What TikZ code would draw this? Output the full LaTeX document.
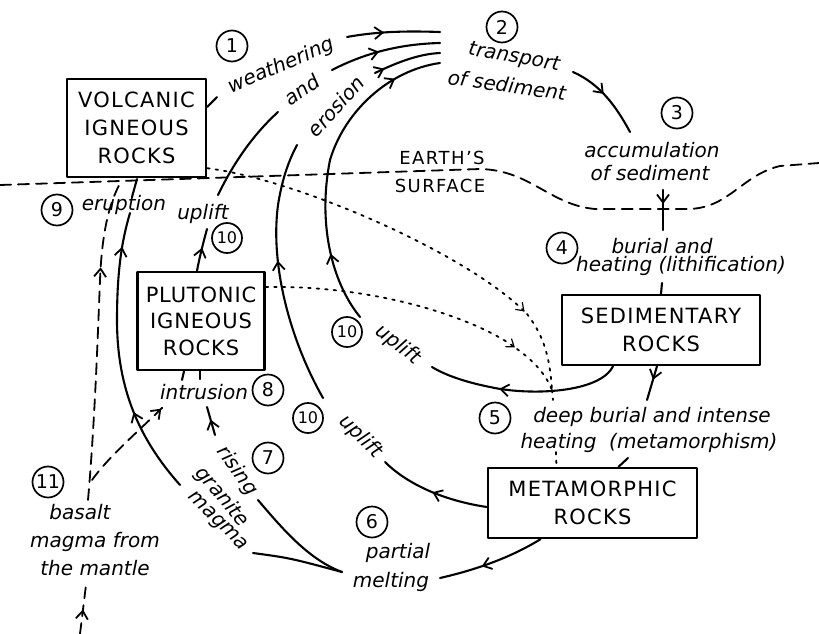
\documentclass[tikz,border=0pt]{standalone}
\usepackage{fontspec}
\setmainfont{DejaVu Sans}
\usetikzlibrary{arrows.meta,decorations.markings}
\begin{document}
\begin{tikzpicture}[x=1pt,y=-1pt,line cap=round,line join=round,
  box/.style={draw,line width=2.4pt,inner sep=0pt,align=center,font=\fontsize{21}{28}\selectfont\addfontfeatures{LetterSpace=6}},
  num/.style={draw,circle,line width=1.7pt,inner sep=0pt,minimum size=31pt,font=\fontsize{19}{19}\selectfont},
  numb/.style={num,minimum size=30pt,font=\fontsize{16}{16}\selectfont},
  lab/.style={inner sep=0pt,font=\fontsize{20}{26}\selectfont\itshape},
  caps/.style={inner sep=0pt,font=\fontsize{18}{20}\selectfont\addfontfeatures{LetterSpace=8}},
  curve/.style={line width=2.1pt},
  dashline/.style={line width=1.8pt,dash pattern=on 11pt off 7pt},
  dotline/.style={line width=1.8pt,dash pattern=on 2.5pt off 6pt},
  marr/.style={postaction={decorate,decoration={markings,mark=at position #1 with {\arrow[line width=1.8pt]{Straight Barb[length=8pt,width=12pt]}}}}},
  darr/.style={postaction={decorate,decoration={markings,mark=at position #1 with {\arrow[line width=1.2pt]{Straight Barb[length=7pt,width=10pt]}}}}},
]
\useasboundingbox (0,0) rectangle (819,634);

% boxes
\node[box,minimum width=139pt,minimum height=98pt] (volc) at (136.5,128) {VOLCANIC\\IGNEOUS\\ROCKS};
\node[box,minimum width=127pt,minimum height=98pt,font=\fontsize{21}{26.5}\selectfont\addfontfeatures{LetterSpace=4}] (pluto) at (201,321) {PLUTONIC\\IGNEOUS\\ROCKS};
\node[box,minimum width=198pt,minimum height=70pt] (sedi) at (661,330) {SEDIMENTARY\\ROCKS};
\node[box,minimum width=209pt,minimum height=70pt] (meta) at (592.5,503) {METAMORPHIC\\ROCKS};

% numbers
\node[num] (n1) at (232,46) {1};
\node[num] (n2) at (502,27) {2};
\node[num] (n3) at (677,113) {3};
\node[num] (n4) at (562,248) {4};
\node[num] (n5) at (495,418) {5};
\node[num] (n6) at (372,522) {6};
\node[num] (n7) at (268,458) {7};
\node[num] (n8) at (268,390) {8};
\node[num] (n9) at (57,210) {9};
\node[numb] (n10a) at (227,238) {10};
\node[numb] (n10b) at (347,332) {10};
\node[numb] (n10c) at (308,418) {10};
\node[num] (n11) at (48,482) {11};

% labels
\node[lab,rotate=23] (weath) at (281,66) {weathering};
\node[lab,rotate=35] (and) at (302,90) {and};
\node[lab,rotate=48] (eros) at (336,106) {erosion};
\node[lab,rotate=-10] (transp) at (514,58) {transport};
\node[lab,rotate=-8] (ofsed) at (507,85) {of sediment};
\node[lab] (accum) at (652,150) {accumulation};
\node[lab] (ofsed2) at (650,173) {of sediment};
\node[lab] (burial) at (662,246) {burial and};
\node[lab] (lithi) at (681,266) {heating (lithification)};
\node[lab] (deep) at (652,417) {deep burial and intense};
\node[lab] (metam) at (649,443) {heating \ (metamorphism)};
\node[lab] (partial) at (398,553) {partial};
\node[lab] (melting) at (391,582) {melting};
\node[lab,rotate=-45] (upl3) at (361,437) {uplift};
\node[lab,rotate=-37] (upl2) at (398,345) {uplift};
\node[lab] (upl1) at (203,214) {uplift};
\node[lab] (erupt) at (124,205) {eruption};
\node[lab] (intru) at (204,392) {intrusion};
\node[lab,rotate=-55] (rising) at (237,471) {rising};
\node[lab,rotate=-50] (granite) at (222,497) {granite};
\node[lab,rotate=-45] (magma) at (217,522) {magma};
\node[lab] (basalt) at (80,512) {basalt};
\node[lab] (magfrom) at (95,542) {magma from};
\node[lab] (mantle) at (95,568) {the mantle};
\node[caps] (earth) at (442,158) {EARTH'S};
\node[caps] (surf) at (440,186) {SURFACE};

% coordinates
\coordinate (w1) at (347,37); \coordinate (t1) at (440,32);
\coordinate (a1) at (332,70); \coordinate (t2) at (440,43);
\coordinate (e1) at (375,73); \coordinate (t3) at (440,53);
\coordinate (t4) at (440,63);
\coordinate (u2top) at (360,317);
\coordinate (u3top) at (323,398); \coordinate (er0) at (297,145);
\coordinate (u3end) at (385,462);
\coordinate (u1a) at (207,229); \coordinate (u1b) at (218,195); \coordinate (an0) at (278,112);
\coordinate (u2end) at (432,367);
\coordinate (mg0) at (180,485); \coordinate (er1) at (130,213);
\coordinate (er2) at (132,197); \coordinate (er3) at (137,179);
\coordinate (bs1) at (88,500); \coordinate (bs2) at (122,180);
\coordinate (bm1) at (80,634); \coordinate (bm2) at (86,585);
\coordinate (br1) at (92,480); \coordinate (br2) at (165,405);
\coordinate (ri1) at (215,435); \coordinate (ri2) at (207,407);
\coordinate (in1) at (182,380); \coordinate (in2) at (200,379);
\coordinate (ris) at (258,500); \coordinate (mgm) at (253,553); \coordinate (pm) at (342,572);
\coordinate (pm2) at (440,578);
\coordinate (tr1) at (573,72); \coordinate (tr2) at (630,132);
\coordinate (ac1) at (663,190); \coordinate (ac2) at (663,230);
\coordinate (li1) at (662,283);
\coordinate (dp) at (647,400);
\coordinate (mt1) at (628,458);
\coordinate (vw) at (217,97);
\coordinate (dva) at (527,314); \coordinate (dm) at (552,390);
\coordinate (dpa) at (517,349);
\coordinate (dm2) at (553,400); \coordinate (dm3) at (556,452);
\coordinate (sl) at (0,185); \coordinate (sr) at (819,163);

% earth's surface
\draw[dashline] (sl) -- (480,169) .. controls (530,170) and (550,205) .. (595,209) -- (690,209) .. controls (730,207) and (742,175) .. (780,166) -- (sr);

% top converging lines
\draw[curve,marr=0.4] (w1) .. controls (380,31) and (410,31) .. (t1);
\draw[curve,marr=0.45] (a1) .. controls (365,53) and (400,44) .. (t2);
\draw[curve,marr=0.15] (e1) .. controls (400,61) and (420,54) .. (t3);
\draw[curve,marr=0.22,marr=0.85] (u2top) .. controls (330,280) and (318,220) .. (330,160) .. controls (345,110) and (390,70) .. (t4);
\draw[curve,marr=0.55] (u3top) .. controls (290,340) and (270,265) .. (278,205) .. controls (282,180) and (288,162) .. (er0);
\draw[curve,marr=0.5] ([yshift=-4pt]meta.west) .. controls (440,500) and (405,482) .. (u3end);
\draw[curve,marr=0.55] ([xshift=-4pt]pluto.north) .. controls (200,255) and (204,240) .. (u1a);
\draw[curve] (u1b) .. controls (235,160) and (255,133) .. (an0);
\draw[curve,marr=0.63] ([xshift=-48pt]sedi.south) .. controls (600,393) and (530,396) .. (490,387) .. controls (465,382) and (445,375) .. (u2end);

% eruption side
\draw[curve,marr=0.3,marr=0.88] (mg0) .. controls (140,440) and (117,390) .. (117,320) .. controls (117,270) and (122,240) .. (er1);
\draw[curve] (er2) -- (er3);
\draw[dashline,marr=0.72] (bs1) .. controls (95,420) and (98,330) .. (100,280) .. controls (102,230) and (110,200) .. (bs2);
\draw[dashline,marr=0.5] (bm1) -- (bm2);
\draw[dashline,marr=0.95] (br1) .. controls (110,455) and (140,430) .. (br2);

% intrusion
\draw[curve,marr=0.55] (ri1) -- (ri2);
\draw[curve] (in1) -- ([xshift=-17pt]pluto.south);
\draw[curve] (in2) -- ([xshift=-1pt]pluto.south);

% partial melting
\draw[curve] (ris) .. controls (285,532) and (310,560) .. (pm);
\draw[curve] (mgm) .. controls (290,558) .. (pm);
\draw[curve,marr=0.6] ([xshift=-52pt]meta.south) .. controls (510,558) and (475,570) .. (pm2);

% sediment path
\draw[curve,marr=0.45] (tr1) .. controls (600,84) and (616,106) .. (tr2);
\draw[curve,marr=0.35] (ac1) -- (ac2);
\draw[curve] (li1) -- (sedi.north);
\draw[curve,marr=0.4] ([xshift=-4pt]sedi.south) -- (dp);
\draw[curve] (mt1) -- ([xshift=26pt]meta.north);
\draw[curve] ([yshift=21pt]volc.east) -- (vw);

% contact metamorphism (dotted)
\draw[dotline,darr=0.99] ([yshift=10pt]volc.south east) .. controls (300,180) and (470,255) .. (dva);
\draw[dotline] (dva) .. controls (545,337) and (550,360) .. (dm);
\draw[dotline,darr=0.99] ([yshift=34pt]pluto.east) .. controls (380,285) and (480,320) .. (dpa);
\draw[dotline] (dpa) .. controls (535,362) and (546,375) .. (dm);
\draw[dotline] (dm) -- (dm2);
\draw[dotline] (dm3) -- ([xshift=-36pt]meta.north);
\end{tikzpicture}
\end{document}
